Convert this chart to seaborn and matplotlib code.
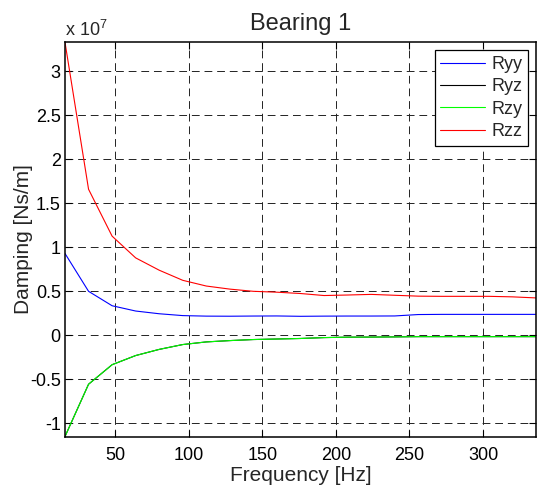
import matplotlib
matplotlib.use("Agg")
import matplotlib.pyplot as plt
import matplotlib.ticker as mticker
import numpy as np
import pandas as pd
import seaborn as sns

# ---- data (damping, Ns/m) ----
freq_hz = [16, 32, 48, 64, 80, 96, 112, 128, 144, 160, 176, 192, 208, 224,
           240, 256, 272, 288, 304, 320, 336]
ryy = [0.93e7, 0.50e7, 0.336e7, 0.276e7, 0.245e7, 0.224e7, 0.218e7, 0.217e7,
       0.219e7, 0.220e7, 0.216e7, 0.218e7, 0.219e7, 0.219e7, 0.220e7, 0.236e7,
       0.238e7, 0.238e7, 0.238e7, 0.238e7, 0.238e7]
rzy = [-1.15e7, -0.556e7, -0.334e7, -0.23e7, -0.16e7, -0.105e7, -0.075e7,
       -0.06e7, -0.048e7, -0.042e7, -0.036e7, -0.026e7, -0.021e7, -0.02e7,
       -0.018e7, -0.015e7, -0.015e7, -0.015e7, -0.015e7, -0.015e7, -0.015e7]
ryz = list(rzy)
rzz = [3.33e7, 1.66e7, 1.127e7, 0.88e7, 0.74e7, 0.625e7, 0.56e7, 0.525e7,
       0.50e7, 0.49e7, 0.475e7, 0.452e7, 0.458e7, 0.465e7, 0.455e7, 0.445e7,
       0.443e7, 0.443e7, 0.443e7, 0.437e7, 0.425e7]
series_names = ["Ryy", "Ryz", "Rzy", "Rzz"]
series_colors = ["#0000FF", "#000000", "#00FF00", "#FF0000"]
xticks = [50, 100, 150, 200, 250, 300]
yticks = [-1e7, -0.5e7, 0, 0.5e7, 1e7, 1.5e7, 2e7, 2.5e7, 3e7]

df = pd.DataFrame({
    "Frequency": freq_hz * 4,
    "Damping": ryy + ryz + rzy + rzz,
    "Series": sum([[n] * len(freq_hz) for n in series_names], []),
})

sns.set_style("ticks")
plt.rcParams["font.family"] = ["Liberation Sans", "DejaVu Sans"]
plt.rcParams["mathtext.fontset"] = "custom"
plt.rcParams["mathtext.rm"] = "Liberation Sans"
plt.rcParams["mathtext.it"] = "Liberation Sans:italic"
plt.rcParams["mathtext.bf"] = "Liberation Sans:bold"

fig = plt.figure(figsize=(5.38, 4.90), dpi=100)
ax = fig.add_axes([65 / 538, 1 - 436.5 / 490, (536 - 65) / 538, (436.5 - 42.3) / 490])

sns.lineplot(data=df, x="Frequency", y="Damping", hue="Series",
             hue_order=series_names, palette=series_colors, linewidth=0.8,
             ax=ax, legend=True)

ax.set_xlim(min(freq_hz), max(freq_hz))
allv = ryy + ryz + rzy + rzz
ax.set_ylim(min(allv), max(allv))
ax.set_xticks(xticks)
ax.set_yticks(yticks)
ax.yaxis.set_major_formatter(mticker.FuncFormatter(lambda v, p: f"{v / 1e7:g}"))

ax.grid(True, color="#222222", linestyle=(0, (8, 5)), linewidth=0.7)
for s in ax.spines.values():
    s.set_visible(True)
    s.set_color("black")
    s.set_linewidth(1.1)
ax.tick_params(direction="in", length=5, width=0.8, top=True, right=True,
               labelsize=13, colors="black")
ax.tick_params(axis="x", pad=7.5)
ax.tick_params(axis="y", pad=3)

ax.set_xlabel("Frequency [Hz]", fontsize=15)
ax.set_ylabel("Damping [Ns/m]", fontsize=15)
ax.xaxis.set_label_coords(0.5, (436.5 - 466) / 394.2)
ax.yaxis.set_label_coords((33 - 65) / 471, 0.5)
ax.set_title("Bearing 1", fontsize=17, pad=9)

leg = ax.legend(loc="upper right", fontsize=13, frameon=True, fancybox=False,
                handlelength=2.5, labelspacing=0.3, borderpad=0.3,
                handletextpad=0.35, borderaxespad=0.45)
leg.get_frame().set_edgecolor("black")
leg.get_frame().set_linewidth(0.9)
leg.get_frame().set_alpha(1)

fig.text(65 / 538, 1 - 36 / 490, r"x 10$^{7}$", fontsize=13, ha="left",
         va="baseline")

fig.savefig("out.png", dpi=100, facecolor="white")
